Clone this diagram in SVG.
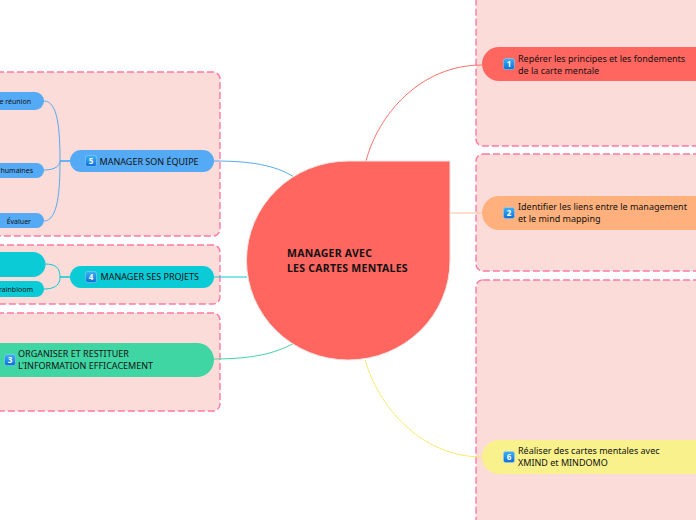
<svg xmlns="http://www.w3.org/2000/svg" width="696" height="520" viewBox="0 0 696 520">
<defs>
<linearGradient id="icon" x1="0" y1="0" x2="0" y2="1"><stop offset="0" stop-color="#3fb2f5"/><stop offset="1" stop-color="#0a6fd8"/></linearGradient>
</defs>
<style>
text{font-family:"Noto Sans","Open Sans","DejaVu Sans",sans-serif;fill:#111}
.box{fill:#fbdcd8;stroke:#ff7aa5;stroke-width:1.400;stroke-dasharray:7 3}
.t{font-size:9px}
.s{font-size:7px}
.c{fill:none;stroke-width:1}
.b{fill:#55aaf5}.y{fill:#0acbd6}
.ic{fill:url(#icon);stroke:#9fd0f7;stroke-width:.5}
.n{font-size:8px;font-weight:700;fill:#fff;text-anchor:middle}
</style>
<g id="frames">
<rect class="box" x="-20" y="72" width="240" height="164" rx="7"/>
<rect class="box" x="-20" y="245" width="240" height="59" rx="7"/>
<rect class="box" x="-20" y="313" width="240" height="98" rx="7"/>
<rect class="box" x="476" y="-30" width="260" height="176" rx="7"/>
<rect class="box" x="476" y="154" width="260" height="117" rx="7"/>
<rect class="box" x="476" y="280" width="260" height="270" rx="7"/>
</g>
<g id="connectors">
<path class="c" stroke="#ff6f69" d="M366 161C378 115 420 65 482 65"/>
<path class="c" stroke="#ffc09a" d="M450 213C462 213 470 213 482 213"/>
<path class="c" stroke="#f8ea6c" d="M365 360C378 405 420 457 482 457"/>
<path class="c" stroke="#55aaf5" d="M214 161C250 161 275 165 294 177"/>
<path class="c" stroke="#0acbd6" d="M214 277H247"/>
<path class="c" stroke="#40d6a4" d="M214 359C250 359 275 354 294 343"/>
<path class="c" stroke="#55aaf5" d="M70 161H60C60 130 58 101 44 101"/>
<path class="c" stroke="#55aaf5" d="M70 161H60C60 165 56 170 44 170"/>
<path class="c" stroke="#55aaf5" d="M70 161H60C60 190 58 221 44 221"/>
<path class="c" stroke="#0acbd6" d="M70 277H60C60 268 56 264 45 264"/>
<path class="c" stroke="#0acbd6" d="M70 277H60C60 284 56 289 44 289"/>
</g>
<g id="center">
<path d="M450 161V260.500A101.750 99.500 0 1 1 348.250 161Z" fill="#ff6660" stroke="#f3e3e1" stroke-width="1"/>
<text x="287" y="257" font-size="10.500" font-weight="700" letter-spacing=".25">MANAGER AVEC</text>
<text x="287" y="272" font-size="10.500" font-weight="700" letter-spacing=".25">LES CARTES MENTALES</text>
</g>
<g id="node-1">
<path d="M700 47H499A17 17 0 0 0 499 81H700Z" fill="#ff6660"/>
<rect class="ic" x="503.500" y="58.500" width="11" height="11" rx="2"/><text class="n" x="509" y="67">1</text>
<text class="t" x="518" y="62">Repérer les principes et les fondements</text>
<text class="t" x="518" y="74">de la carte mentale</text>
</g>
<g id="node-2">
<path d="M700 196H499A17 17 0 0 0 499 230H700Z" fill="#ffb07c"/>
<rect class="ic" x="503.500" y="207.500" width="11" height="11" rx="2"/><text class="n" x="509" y="216">2</text>
<text class="t" x="518" y="210">Identifier les liens entre le management</text>
<text class="t" x="518" y="222">et le mind mapping</text>
</g>
<g id="node-6">
<path d="M700 440H499A17 17 0 0 0 499 474H700Z" fill="#f8f18c"/>
<rect class="ic" x="503.500" y="451.500" width="11" height="11" rx="2"/><text class="n" x="509" y="460">6</text>
<text class="t" x="518" y="454">Réaliser des cartes mentales avec</text>
<text class="t" x="518" y="466">XMIND et MINDOMO</text>
</g>
<g id="node-5">
<rect class="b" x="70" y="150" width="144" height="22" rx="11"/>
<rect class="ic" x="85.500" y="155.500" width="11" height="11" rx="2"/><text class="n" x="91" y="164">5</text>
<text class="t" x="99.500" y="165">MANAGER SON ÉQUIPE</text>
</g>
<g id="node-4">
<rect class="y" x="70" y="266" width="144" height="22" rx="11"/>
<rect class="ic" x="85.500" y="271.500" width="11" height="11" rx="2"/><text class="n" x="91" y="280">4</text>
<text class="t" x="100.500" y="280">MANAGER SES PROJETS</text>
</g>
<g id="node-3">
<path d="M-10 343H197A17 17 0 0 1 197 377H-10Z" fill="#40d6a4"/>
<rect class="ic" x="4.500" y="354.500" width="11" height="11" rx="2"/><text class="n" x="10" y="363">3</text>
<text class="t" x="18" y="357">ORGANISER ET RESTITUER</text>
<text class="t" x="18" y="369">L'INFORMATION EFFICACEMENT</text>
</g>
<g id="sub-reunion">
<path d="M-10 92H35A9 9 0 0 1 35 110H-10Z" fill="#55aaf5"/>
<text class="s" x="31" y="104" text-anchor="end">e réunion</text>
</g>
<g id="sub-humaines">
<path d="M-10 163H36.500A7.500 7.500 0 0 1 36.500 178H-10Z" fill="#55aaf5"/>
<text class="s" x="33" y="173" text-anchor="end">humaines</text>
</g>
<g id="sub-evaluer">
<path d="M-10 213H36.500A7.500 7.500 0 0 1 36.500 228H-10Z" fill="#55aaf5"/>
<text class="s" x="31" y="224" text-anchor="end">Évaluer</text>
</g>
<g id="sub-teal">
<path d="M-10 252H33A12.500 12.500 0 0 1 33 277H-10Z" fill="#0acbd6"/>
</g>
<g id="sub-brainbloom">
<path d="M-10 281H36A8 8 0 0 1 36 297H-10Z" fill="#0acbd6"/>
<text class="s" x="33" y="292" text-anchor="end">rainbloom</text>
</g>
</svg>
